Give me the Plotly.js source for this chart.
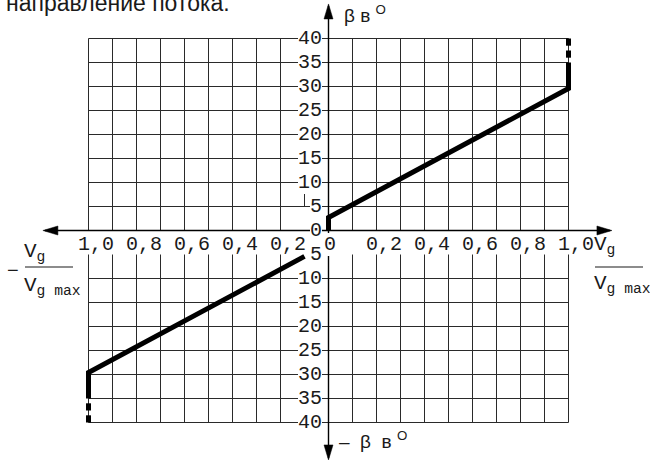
<!DOCTYPE html>
<html>
<head>
<meta charset="utf-8">
<script src="https://cdn.plot.ly/plotly-3.0.1.min.js"></script>
<style>html,body{margin:0;padding:0;background:#fff}</style>
</head>
<body>
<div id="chart" style="width:650px;height:464px"></div>
<script>
// Flow angle β against relative flow Vg / Vg max, forward (upper right) and reverse (lower left).

// forward branch: solid part and the dashed continuation at full flow
const upperX = [0, 0, 1.0, 1.0];
const upperY = [0, 2.7, 29.6, 35.0];
const upperDashX = [1.0, 1.0, null, 1.0, 1.0];
const upperDashY = [36.0, 37.5, null, 38.5, 40.0];

// reverse branch
const lowerX = [-0.1, -1.0, -1.0];
const lowerY = [-5.4, -29.6, -35.0];
const lowerDashX = [-1.0, -1.0, null, -1.0, -1.0];
const lowerDashY = [-36.0, -37.5, null, -38.5, -40.0];

// tick labels
const xTickVals = [-1.0, -0.8, -0.6, -0.4, -0.2, 0, 0.2, 0.4, 0.6, 0.8, 1.0];
const xTickText = ['1,0', '0,8', '0,6', '0,4', '0,2', '0', '0,2', '0,4', '0,6', '0,8', '1,0'];
const yUpperVals = [40, 35, 30, 25, 20, 15, 10, 5, 0];
const yUpperText = ['40', '35', '30', '25', '20', '15', '10', '5', '0'];
const yLowerVals = [-5, -10, -15, -20, -25, -30, -35, -40];
const yLowerText = ['5', '10', '15', '20', '25', '30', '35', '40'];

// figure geometry (pixels) and the data scale of the frame
const W = 650, H = 464;
const X0 = 328.5, PX_PER_X = 240;   // x = 0 position, pixels per unit of Vg/Vg max
const Y0 = 230.5, PX_PER_Y = 4.8;   // β = 0 position, pixels per degree
const xRange = [-X0 / PX_PER_X, (W - X0) / PX_PER_X];
const yRange = [(Y0 - H) / PX_PER_Y, Y0 / PX_PER_Y];
const dx = p => p / PX_PER_X;       // pixel length -> x units
const dy = p => p / PX_PER_Y;       // pixel length -> β units
const px = p => p / W;              // pixel -> paper x
const py = p => 1 - p / H;          // pixel -> paper y

const GRID = '#2a2a2a';
const INK = '#000';
const TEXT = '#1a1a1a';
const MONO = 'Liberation Mono, Courier New, monospace';
const SANS = 'Liberation Sans, Arial, sans-serif';

const shapes = [];
const line = (x0, y0, x1, y1, w, c) => shapes.push({
  type: 'line', xref: 'x', yref: 'y', x0, y0, x1, y1, layer: 'below',
  line: {color: c || GRID, width: w || 1}
});

// grid: upper half 0..40, lower half -5..-40
for (let k = -10; k <= 10; k++) {
  const x = k / 10;
  if (k === 0) continue;
  if (k === -1) {
    line(x, 5, x, 8.4);
  } else {
    line(x, 0, x, 40);
    line(x, -5, x, -40);
  }
}
for (let v = 5; v <= 40; v += 5) line(-1, v, 1, v);
for (let v = -10; v >= -40; v -= 5) line(-1, v, 1, v);

// main axes with arrowheads
const axXMin = -1.19, axXMax = 1.181, axYMax = 47.2, axYMin = -47.8;
const headL = 15, headW = 4.5;
line(axXMin + dx(2), 0, axXMax - dx(2), 0, 1.4, INK);
line(0, axYMin + dy(2), 0, axYMax - dy(2), 1.4, INK);
const tri = pts => shapes.push({
  type: 'path', xref: 'x', yref: 'y', layer: 'above',
  path: 'M' + pts.map(p => p[0] + ',' + p[1]).join('L') + 'Z',
  fillcolor: INK, line: {color: INK, width: 0.5}
});
tri([[axXMin, 0], [axXMin + dx(headL), dy(headW)], [axXMin + dx(headL), -dy(headW)]]);
tri([[axXMax, 0], [axXMax - dx(headL), dy(headW)], [axXMax - dx(headL), -dy(headW)]]);
tri([[0, axYMax], [dx(headW), axYMax - dy(headL)], [-dx(headW), axYMax - dy(headL)]]);
tri([[0, axYMin], [dx(headW), axYMin + dy(headL)], [-dx(headW), axYMin + dy(headL)]]);

// fraction bars of the axis names
const bar = (xa, xb, y) => shapes.push({
  type: 'line', xref: 'paper', yref: 'paper', x0: px(xa), x1: px(xb), y0: py(y), y1: py(y),
  line: {color: TEXT, width: 1.2}
});
bar(595, 643, 267);
bar(25, 73, 267);

const annotations = [];
// β tick labels on the vertical axis
const yLabel = (v, t) => annotations.push({
  xref: 'x', yref: 'y', x: 0, y: v, xanchor: 'right', yanchor: 'middle', xshift: -7,
  text: t, showarrow: false, bgcolor: '#fff', borderpad: 0, borderwidth: 0,
  font: {family: MONO, size: 20, color: TEXT}
});
yUpperVals.forEach((v, i) => yLabel(v, yUpperText[i]));
yLowerVals.forEach((v, i) => yLabel(v, yLowerText[i]));

// Vg/Vg max tick labels in the band under the horizontal axis
xTickVals.forEach((v, i) => annotations.push({
  xref: 'x', yref: 'paper', x: v, y: py(244), xanchor: 'center', yanchor: 'middle',
  xshift: v === 0 ? 1 : 7, text: xTickText[i], showarrow: false,
  bgcolor: v === 0 ? '#fff' : 'rgba(0,0,0,0)', borderpad: 0, borderwidth: 0,
  font: {family: MONO, size: 20, color: TEXT}
}));

const freeText = (x, y, t, font, anchor) => annotations.push({
  xref: 'paper', yref: 'paper', x: px(x), y: py(y), xanchor: anchor || 'left', yanchor: 'middle',
  text: t, showarrow: false, borderpad: 0, borderwidth: 0, font
});
freeText(6, 3, 'направление потока.', {family: SANS, size: 23, color: TEXT});
freeText(344, 14, 'β в <sup>O</sup>', {family: SANS, size: 19, color: TEXT});
freeText(339, 440, '–\u00a0\u00a0β\u00a0\u00a0в <sup>O</sup>', {family: SANS, size: 19, color: TEXT});
freeText(594, 245, 'V<sub>g</sub>', {family: MONO, size: 21, color: TEXT});
freeText(594, 284, 'V<sub>g max</sub>', {family: MONO, size: 21, color: TEXT});
freeText(24, 253, 'V<sub>g</sub>', {family: MONO, size: 21, color: TEXT});
freeText(24, 286, 'V<sub>g max</sub>', {family: MONO, size: 21, color: TEXT});
freeText(13, 270, '−', {family: SANS, size: 20, color: TEXT}, 'center');

const thick = (x, y) => ({
  x, y, type: 'scatter', mode: 'lines', hoverinfo: 'skip', showlegend: false,
  connectgaps: false, line: {color: INK, width: 5}
});
const data = [
  thick(upperX, upperY), thick(upperDashX, upperDashY),
  thick(lowerX, lowerY), thick(lowerDashX, lowerDashY)
];

const layout = {
  width: W, height: H, autosize: false,
  margin: {l: 0, r: 0, t: 0, b: 0, pad: 0},
  paper_bgcolor: '#fff', plot_bgcolor: '#fff', showlegend: false,
  xaxis: {range: xRange, visible: false, fixedrange: true},
  yaxis: {range: yRange, visible: false, fixedrange: true},
  shapes, annotations
};
Plotly.newPlot('chart', data, layout, {staticPlot: true, displayModeBar: false});
</script>
</body>
</html>
